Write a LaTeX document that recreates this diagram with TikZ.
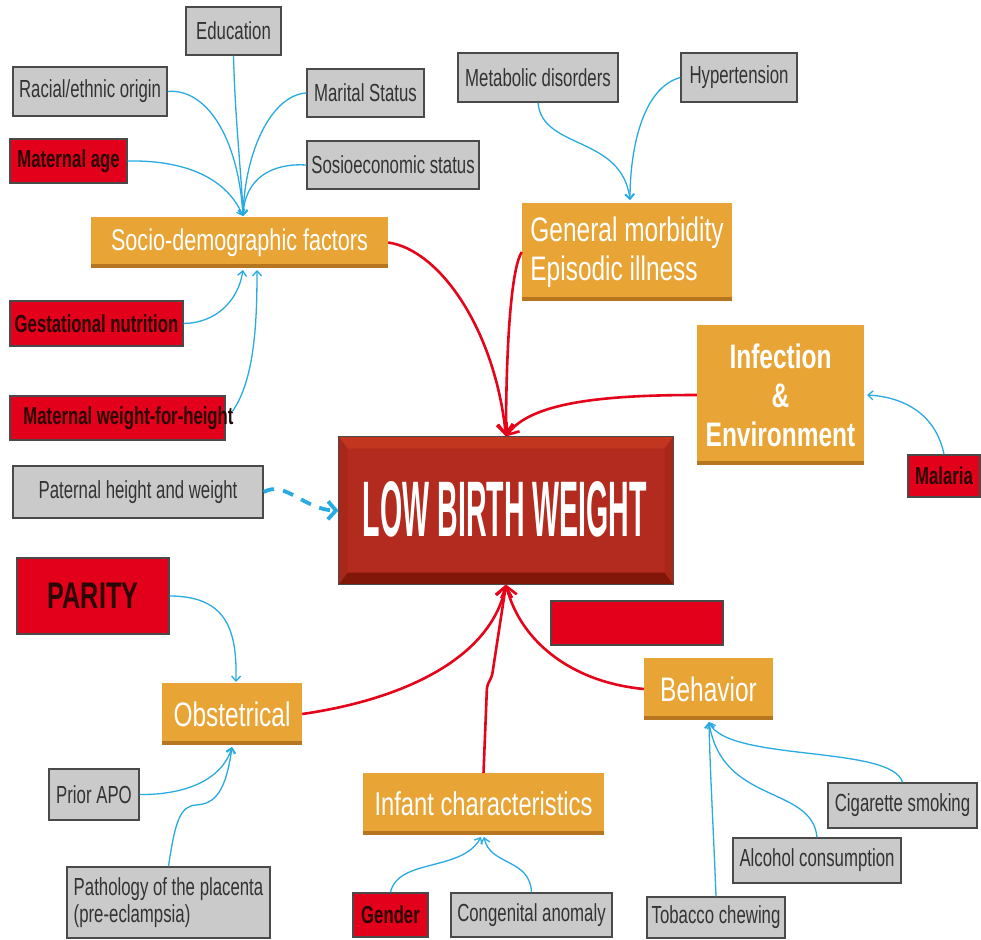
\documentclass[tikz,border=0pt]{standalone}
\usepackage{fontspec}
\setmainfont{Liberation Sans}[FakeStretch=0.72]
\newfontfamily\narfont{Liberation Sans}[FakeStretch=0.68]
\usetikzlibrary{arrows.meta}
\definecolor{grayfill}{HTML}{C9CAC9}
\definecolor{grayline}{HTML}{4A4A4A}
\definecolor{redfill}{HTML}{E2001A}
\definecolor{orfill}{HTML}{E9A436}
\definecolor{ordark}{HTML}{B5761F}
\definecolor{lbwfill}{HTML}{B22B1E}
\definecolor{lbwlight}{HTML}{C2351F}
\definecolor{lbwdark}{HTML}{801709}
\definecolor{lbwside}{HTML}{A82719}
\definecolor{bluearr}{HTML}{29ABE2}
\definecolor{redarr}{HTML}{E4051A}
\definecolor{txtgray}{HTML}{333333}
\definecolor{txtred}{HTML}{2A0606}
\tikzset{
 graybox/.style={draw=grayline, line width=1.4pt, fill=grayfill, text=txtgray,
   font=\narfont\fontsize{24.7}{27}\selectfont, inner sep=0pt, align=center},
 redbox/.style={draw=grayline, line width=1.4pt, fill=redfill, text=txtred,
   font=\narfont\bfseries\fontsize{24.6}{27}\selectfont, inner sep=0pt},
 redtext/.style={text=txtred, font=\narfont\bfseries\fontsize{24.6}{27}\selectfont, inner sep=0pt},
 orbox/.style={fill=orfill, text=white, font=\fontsize{34}{39}\selectfont, inner sep=0pt,
   path picture={\fill[ordark] ([yshift=4pt]path picture bounding box.south west)
     rectangle (path picture bounding box.south east);}},
 bl/.style={draw=bluearr, line width=1.3pt, -{Straight Barb[length=5pt,width=9pt]}},
 rd/.style={draw=redarr, line width=2.6pt, -{Straight Barb[length=10pt,width=16pt]}},
 dsh/.style={draw=bluearr, line width=3.8pt, dash pattern=on 11pt off 9pt,
   -{Straight Barb[length=8pt,width=18pt]}},
}
\begin{document}
\begin{tikzpicture}[x=1pt,y=-1pt]
\useasboundingbox (0,0) rectangle (981,939);
\fill[white] (0,0) rectangle (981,939);

% top-left gray and red nodes
\node[graybox, minimum width=95pt, minimum height=48pt] (edu) at (233.5,31) {Education};
\node[graybox, minimum width=154pt, minimum height=49pt] (racial) at (90,91.5) {Racial/ethnic origin};
\node[graybox, minimum width=117pt, minimum height=48pt] (marital) at (365.5,93) {Marital Status};
\node[redbox, minimum width=117pt, minimum height=44pt] (matage) at (68.5,161) {Maternal age};
\node[graybox, minimum width=172pt, minimum height=48pt] (sosio) at (393,165) {Sosioeconomic status};
\node[orbox, font=\fontsize{30}{34}\selectfont, minimum width=297pt, minimum height=51pt] (socio) at (239.5,242.5) {Socio-demographic factors};
\node[redbox, minimum width=173pt, minimum height=45pt] (gest) at (96.5,323.5) {Gestational nutrition};
\node[redbox, minimum width=215pt, minimum height=44pt] (mwh) at (117.5,418) {};
\node[redtext] (mwht) at (128.5,418) {Maternal weight-for-height};
\node[graybox, minimum width=250pt, minimum height=52pt] (paternal) at (138,492) {Paternal height and weight};

% top-right
\node[graybox, minimum width=160pt, minimum height=49pt] (metab) at (538,77.5) {Metabolic disorders};
\node[graybox, minimum width=116pt, minimum height=49pt] (hyper) at (739,77.5) {Hypertension};
\node[orbox, align=left, minimum width=210pt, minimum height=98pt] (genmorb) at (627,252) {General morbidity\\Episodic illness};
\node[orbox, font=\bfseries\fontsize{34}{39}\selectfont, align=center, minimum width=167pt, minimum height=140pt] (infect) at (780.5,395) {Infection\\\&\\Environment};
\node[redbox, minimum width=72pt, minimum height=42pt] (malaria) at (944,476) {Malaria};

% central node
\node[draw=grayline, line width=1pt, fill=lbwfill, minimum width=334pt, minimum height=147pt, inner sep=0pt] (lbw) at (506,510.5) {};
\fill[lbwlight] (lbw.north west) -- (lbw.north east) -- ([xshift=-9pt,yshift=-12pt]lbw.north east) -- ([xshift=9pt,yshift=-12pt]lbw.north west) -- cycle;
\fill[lbwdark] (lbw.south west) -- (lbw.south east) -- ([xshift=-9pt,yshift=12pt]lbw.south east) -- ([xshift=9pt,yshift=12pt]lbw.south west) -- cycle;
\fill[lbwside] (lbw.north west) -- ([xshift=9pt,yshift=-12pt]lbw.north west) -- ([xshift=9pt,yshift=12pt]lbw.south west) -- (lbw.south west) -- cycle;
\fill[lbwside] (lbw.north east) -- ([xshift=-9pt,yshift=-12pt]lbw.north east) -- ([xshift=-9pt,yshift=12pt]lbw.south east) -- (lbw.south east) -- cycle;
\draw[grayline, line width=1pt] (lbw.north west) rectangle (lbw.south east);
\node[text=white, inner sep=0pt] (lbwt) at (505,509.5) {\resizebox{284pt}{55pt}{\bfseries LOW BIRTH WEIGHT}};

% bottom-left
\node[redbox, font=\narfont\bfseries\fontsize{37}{42}\selectfont, minimum width=152pt, minimum height=76pt] (parity) at (93,596) {PARITY};
\node[orbox, minimum width=140pt, minimum height=62pt] (obst) at (232,714) {Obstetrical};
\node[graybox, minimum width=90pt, minimum height=51pt] (prior) at (94,794.5) {Prior APO};
\node[graybox, align=left, minimum width=203pt, minimum height=71pt] (patho) at (168.5,902.5) {Pathology of the placenta\\(pre-eclampsia)};

% bottom-right
\node[redbox, minimum width=172pt, minimum height=44pt] (redrect) at (637,623) {};
\node[orbox, minimum width=241pt, minimum height=62pt, font=\fontsize{33}{38}\selectfont] (infant) at (483.5,804) {Infant characteristics};
\node[orbox, minimum width=129pt, minimum height=62pt] (behav) at (708.5,689) {Behavior};
\node[redbox, minimum width=75pt, minimum height=44pt] (gender) at (390.5,915) {Gender};
\node[graybox, minimum width=161pt, minimum height=44pt] (cong) at (531.5,915) {Congenital anomaly};
\node[graybox, minimum width=138pt, minimum height=41pt] (tobacco) at (716,917.5) {Tobacco chewing};
\node[graybox, minimum width=168pt, minimum height=45pt] (alcohol) at (817,860.5) {Alcohol consumption};
\node[graybox, minimum width=149pt, minimum height=45pt] (cig) at (902.5,805.5) {Cigarette smoking};

% target coordinates
\coordinate (t1) at (243,216);
\coordinate (t2) at (243,270);
\coordinate (t3) at (257,270);
\coordinate (g1) at (630,200);
\coordinate (i1) at (481,837);
\coordinate (i2) at (484,837);
\coordinate (b1) at (709,722);
\coordinate (o1) at (236,682);
\coordinate (o2) at (232,747);
\coordinate (ie) at (867,395);
\coordinate (mwhend) at (232,412);
\coordinate (k1) at (487,686);
\coordinate (k2) at (492,676);

% blue arrows, socio-demographic
\draw[bl] (edu.south) .. controls (235,120) and (242,180) .. (t1);
\draw[bl] (racial.east) .. controls (205,88) and (238,135) .. (t1);
\draw[bl] (marital.west) .. controls (272,95) and (245,150) .. (t1);
\draw[bl] (matage.east) .. controls (180,160) and (225,175) .. (t1);
\draw[bl] (sosio.west) .. controls (272,163) and (245,178) .. (t1);
\draw[bl] (gest.east) .. controls (215,323) and (238,302) .. (t2);
\draw[bl] (mwhend) .. controls (255,380) and (257,320) .. (t3);

% blue arrows, morbidity and infection
\draw[bl] (metab.south) .. controls (542,150) and (622,135) .. (g1);
\draw[bl] (hyper.west) .. controls (642,88) and (630,150) .. (g1);
\draw[bl] (malaria.north) .. controls (936,415) and (905,397) .. (ie);

% red arrows to top of LBW
\draw[rd] (socio.east) .. controls (440,250) and (495,330) .. (lbw.north);
\draw[rd] (genmorb.west) .. controls (510,270) and (506,360) .. (lbw.north);
\draw[rd] (infect.west) .. controls (600,395) and (530,403) .. (lbw.north);

% dashed arrow
\draw[dsh] (paternal.east) .. controls (285,480) and (305,510) .. (lbw.west);

% blue arrows, obstetrical
\draw[bl] (parity.east) .. controls (228,596) and (237,632) .. (o1);
\draw[bl] (prior.east) .. controls (185,795) and (222,780) .. (o2);
\draw[bl] (patho.north) .. controls (175,822) and (180,806) .. (196,805) .. controls (216,804) and (226,790) .. (o2);

% red arrows to bottom of LBW
\draw[rd] (obst.east) .. controls (400,700) and (490,660) .. (lbw.south);
\draw[rd, rounded corners=3pt] (infant.north) -- (k1) -- (k2) -- (lbw.south);
\draw[rd] (behav.west) .. controls (570,682) and (520,640) .. (lbw.south);

% blue arrows, infant
\draw[bl] (gender.north) .. controls (398,858) and (462,872) .. (i1);
\draw[bl] (cong.north) .. controls (530,858) and (490,866) .. (i2);

% blue arrows, behavior
\draw[bl] (tobacco.north) .. controls (713,820) and (710,770) .. (b1);
\draw[bl] (alcohol.north) .. controls (812,785) and (722,805) .. (b1);
\draw[bl] (cig.north) .. controls (892,745) and (728,762) .. (b1);
\end{tikzpicture}
\end{document}
